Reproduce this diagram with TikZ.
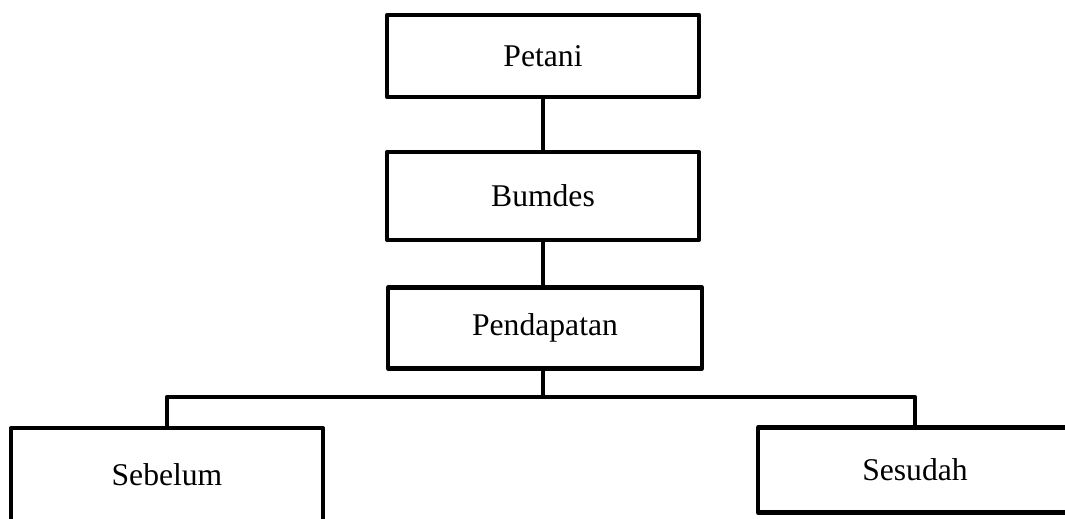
\documentclass[tikz,border=0pt]{standalone}
\usepackage{fontspec}
\setmainfont{Liberation Serif}
\usetikzlibrary{positioning}

\begin{document}
\begin{tikzpicture}[x=0.02cm, y=-0.02cm,
    kotak/.style={draw, line width=2.4pt, line join=round, minimum width=6.24cm,
        font=\fontsize{18}{22}\selectfont},
    garis/.style={line width=2.4pt}]
\clip (0,0) rectangle (1065,518);
\node[kotak, minimum height=1.64cm] (petani) at (543,56) {Petani};
\node[kotak, minimum height=1.76cm] (bumdes) at (543,196) {Bumdes};
\node[kotak, minimum width=6.28cm, minimum height=1.62cm] (pendapatan) at (545,328) {Pendapatan};
\node[kotak, minimum height=1.88cm] (sebelum) at (167,475) {Sebelum};
\node[kotak, minimum width=6.28cm, minimum height=1.70cm] (sesudah) at (915,470) {Sesudah};
\coordinate (cabang) at (543,397);
\draw[garis] (petani.south) -- (bumdes.north);
\draw[garis] (bumdes.south) -- (bumdes.south |- pendapatan.north);
\draw[garis] (pendapatan.south -| cabang) -- (cabang);
\draw[garis, line join=round] (sebelum.north) |- (cabang) -| (sesudah.north);
\end{tikzpicture}
\end{document}
